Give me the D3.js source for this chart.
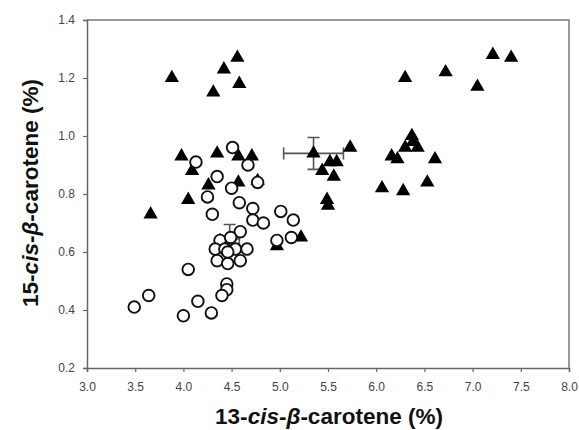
<!DOCTYPE html>
<meta charset="utf-8">
<head>
    <script type="text/javascript" src="https://cdn.jsdelivr.net/npm/d3@7"></script>
    <style>
        body { margin: 0; background: #fff; }
        .tick text { font-family: "Liberation Sans", Arial, sans-serif; font-size: 12px; fill: #444; }
        .axis-title { font-family: "Liberation Sans", Arial, sans-serif; font-size: 22.5px; font-weight: bold; fill: #111; }
    </style>
    <title></title>
</head>
<body>
<script>
    // open circles: 13-cis (x) and 15-cis (y)
    var circleX = [4.13, 4.51, 4.67, 4.35, 4.50, 4.77, 4.25, 4.58, 4.72, 4.72, 4.83, 4.30, 5.01, 5.14,
                   5.12, 4.97, 4.59, 4.38, 4.49, 4.33, 4.43, 4.54, 4.66, 4.35, 4.46, 4.59, 4.46,
                   4.05, 4.45, 4.45, 4.40, 4.15, 4.00, 4.29, 3.64, 3.49];
    var circleY = [0.91, 0.96, 0.90, 0.86, 0.82, 0.84, 0.79, 0.77, 0.75, 0.71, 0.70, 0.73, 0.74, 0.71,
                   0.65, 0.64, 0.67, 0.64, 0.65, 0.61, 0.61, 0.61, 0.61, 0.57, 0.56, 0.57, 0.60,
                   0.54, 0.49, 0.47, 0.45, 0.43, 0.38, 0.39, 0.45, 0.41];

    // filled triangles
    var triX = [3.88, 4.56, 4.42, 4.58, 4.31, 3.98, 4.09, 4.35, 4.57, 4.71, 4.26, 4.57, 4.77, 4.05, 3.66,
                4.97, 5.22, 5.35, 5.73, 5.52, 5.59, 5.44, 5.56, 5.49, 5.50,
                6.37, 6.38, 6.43, 6.30, 6.16, 6.22, 6.61, 6.06, 6.28, 6.53,
                6.30, 6.72, 7.05, 7.21, 7.40];
    var triY = [1.20, 1.27, 1.23, 1.18, 1.15, 0.93, 0.88, 0.94, 0.93, 0.93, 0.83, 0.84, 0.845, 0.78, 0.73,
                0.62, 0.65, 0.94, 0.96, 0.91, 0.91, 0.88, 0.86, 0.78, 0.76,
                1.00, 0.98, 0.96, 0.96, 0.93, 0.92, 0.92, 0.82, 0.81, 0.84,
                1.20, 1.22, 1.17, 1.28, 1.27];

    // group means with error bars
    var meanX = [4.48, 5.35];
    var meanY = [0.645, 0.94];
    var errX = [0.10, 0.31];
    var errY = [0.05, 0.055];

    var xTicks = [3.0, 3.5, 4.0, 4.5, 5.0, 5.5, 6.0, 6.5, 7.0, 7.5, 8.0];
    var yTicks = [0.2, 0.4, 0.6, 0.8, 1.0, 1.2, 1.4];

    var margin = {top: 20, right: 10, bottom: 62, left: 87};
    var width = 579 - margin.left - margin.right;
    var height = 430 - margin.top - margin.bottom;

    var svg = d3.select("body").append("svg")
        .attr("width", 579)
        .attr("height", 430);
    var g = svg.append("g")
        .attr("transform", "translate(" + margin.left + "," + margin.top + ")");

    var x = d3.scaleLinear().domain([3, 8]).range([0, width]);
    var y = d3.scaleLinear().domain([0.2, 1.4]).range([height, 0]);

    // frame (top and right)
    g.append("path")
        .attr("d", "M0,0H" + width + "V" + height)
        .attr("fill", "none")
        .attr("stroke", "#777")
        .attr("stroke-width", 1.5);

    var xAxis = g.append("g")
        .attr("transform", "translate(0," + height + ")")
        .call(d3.axisBottom(x).tickValues(xTicks).tickFormat(d3.format(".1f")).tickSize(4).tickPadding(13));
    var yAxis = g.append("g")
        .call(d3.axisLeft(y).tickValues(yTicks).tickFormat(d3.format(".1f")).tickSize(4).tickPadding(8));
    [xAxis, yAxis].forEach(function (a) {
        a.select(".domain").attr("stroke", "#666").attr("stroke-width", 1.5);
        a.selectAll(".tick line").attr("stroke", "#666").attr("stroke-width", 1.2);
    });
    xAxis.selectAll("text").attr("dy", "0.5em");

    // error bars
    var cap = 6;
    meanX.forEach(function (mx, i) {
        var cx = x(mx), cy = y(meanY[i]);
        var x0 = x(mx - errX[i]), x1 = x(mx + errX[i]);
        var y0 = y(meanY[i] - errY[i]), y1 = y(meanY[i] + errY[i]);
        var d = "M" + x0 + "," + cy + "H" + x1 +
            "M" + x0 + "," + (cy - cap) + "V" + (cy + cap) +
            "M" + x1 + "," + (cy - cap) + "V" + (cy + cap) +
            "M" + cx + "," + y0 + "V" + y1 +
            "M" + (cx - cap) + "," + y0 + "H" + (cx + cap) +
            "M" + (cx - cap) + "," + y1 + "H" + (cx + cap);
        g.append("path").attr("d", d).attr("stroke", "#555").attr("stroke-width", 1.6).attr("fill", "none");
    });

    var tri = d3.symbol().type(d3.symbolTriangle).size(88);
    g.selectAll(".tri")
        .data(d3.range(triX.length))
        .enter().append("path")
        .attr("class", "tri")
        .attr("d", tri)
        .attr("transform", function (i) { return "translate(" + x(triX[i]) + "," + y(triY[i]) + ")"; })
        .attr("fill", "#000");

    g.selectAll(".circ")
        .data(d3.range(circleX.length))
        .enter().append("circle")
        .attr("class", "circ")
        .attr("cx", function (i) { return x(circleX[i]); })
        .attr("cy", function (i) { return y(circleY[i]); })
        .attr("r", 5.8)
        .attr("fill", "#fff")
        .attr("stroke", "#111")
        .attr("stroke-width", 1.9);

    // axis titles
    var xt = svg.append("text")
        .attr("class", "axis-title")
        .attr("x", 329)
        .attr("y", 424)
        .attr("text-anchor", "middle");
    xt.append("tspan").text("13-");
    xt.append("tspan").attr("font-style", "italic").text("cis");
    xt.append("tspan").text("-");
    xt.append("tspan").attr("font-style", "italic").text("β");
    xt.append("tspan").text("-carotene (%)");

    var yt = svg.append("text")
        .attr("class", "axis-title")
        .attr("transform", "translate(38,193) rotate(-90)")
        .attr("text-anchor", "middle");
    yt.append("tspan").text("15-");
    yt.append("tspan").attr("font-style", "italic").text("cis");
    yt.append("tspan").text("-");
    yt.append("tspan").attr("font-style", "italic").text("β");
    yt.append("tspan").text("-carotene (%)");
</script>
</body>
</html>
